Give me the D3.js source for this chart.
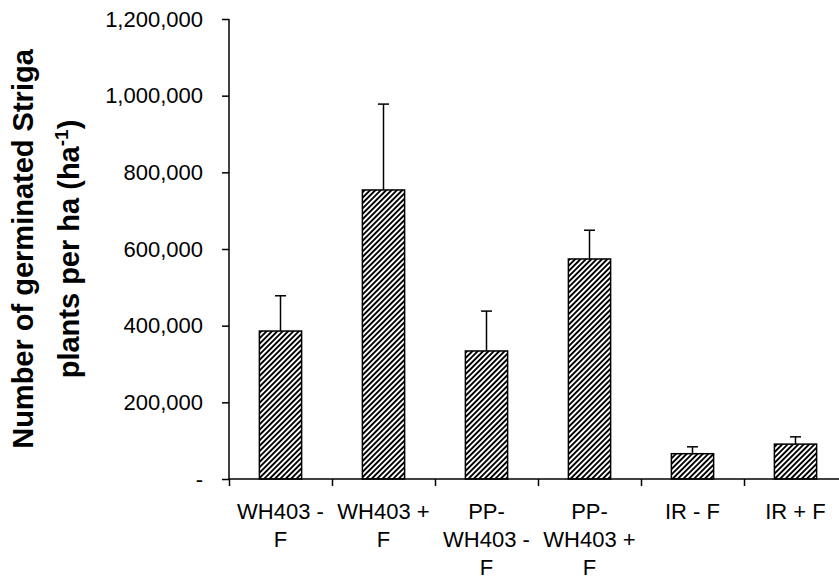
<!DOCTYPE html>
<html>
<head>
<meta charset="utf-8">
<script src="https://cdn.jsdelivr.net/npm/d3@7"></script>
<style>
  html, body { margin: 0; padding: 0; background: #fff; }
  svg { display: block; }
  text { font-family: Arial, "Liberation Sans", sans-serif; fill: #000; }
</style>
</head>
<body>
<div id="chart"></div>
<script>
const categories = ["WH403 - F", "WH403 + F", "PP-WH403 - F", "PP-WH403 + F", "IR - F", "IR + F"];
const labelLines = [["WH403 -", "F"], ["WH403 +", "F"], ["PP-", "WH403 -", "F"], ["PP-", "WH403 +", "F"], ["IR - F"], ["IR + F"]];
const means = [386000, 754000, 334000, 574000, 66000, 91000];
const errUp = [92000, 224000, 104000, 75000, 18000, 19000];
const yTicks = [0, 200000, 400000, 600000, 800000, 1000000, 1200000];

const width = 839, height = 580;
const plotL = 229, plotR = 847, plotT = 19, plotB = 479;

const svg = d3.select("#chart").append("svg")
  .attr("width", width).attr("height", height);

const defs = svg.append("defs");
const pat = defs.append("pattern")
  .attr("id", "hatch")
  .attr("patternUnits", "userSpaceOnUse")
  .attr("width", 3.8).attr("height", 3.8)
  .attr("patternTransform", "rotate(45)");
pat.append("rect").attr("width", 3.8).attr("height", 3.8).attr("fill", "#fff");
pat.append("rect").attr("x", 0).attr("width", 1.9).attr("height", 3.8).attr("fill", "#000");

const x = d3.scaleBand().domain(categories).range([plotL, plotR]).padding(0);
const xEdge = d3.scaleLinear().domain([0, categories.length]).range([plotL, plotR]);
const y = d3.scaleLinear().domain([0, 1200000]).range([plotB, plotT]);

const barW = x.bandwidth() * 0.41;

// bars
svg.append("g").selectAll("rect")
  .data(categories)
  .join("rect")
  .attr("x", d => x(d) + x.bandwidth() / 2 - barW / 2)
  .attr("y", (d, i) => y(means[i]))
  .attr("width", barW)
  .attr("height", (d, i) => y(0) - y(means[i]))
  .attr("fill", "url(#hatch)")
  .attr("stroke", "#000")
  .attr("stroke-width", 1.5);

// error bars (upper only)
const eb = svg.append("g").attr("stroke", "#000").attr("stroke-width", 1.5);
categories.forEach((c, i) => {
  const cx = x(c) + x.bandwidth() / 2;
  eb.append("line")
    .attr("x1", cx).attr("x2", cx)
    .attr("y1", y(means[i])).attr("y2", y(means[i] + errUp[i]));
  eb.append("line")
    .attr("x1", cx - 5.5).attr("x2", cx + 5.5)
    .attr("y1", y(means[i] + errUp[i])).attr("y2", y(means[i] + errUp[i]));
});

// y axis
const yAxis = svg.append("g")
  .attr("transform", `translate(${plotL},0)`)
  .call(d3.axisLeft(y).tickValues(yTicks).tickSize(7).tickPadding(19)
    .tickFormat(d => d === 0 ? "-" : d3.format(",")(d)));
yAxis.select(".domain").attr("d", `M0,${plotT}V${plotB}`);

// x axis
const xAxis = svg.append("g")
  .attr("transform", `translate(0,${plotB})`)
  .call(d3.axisBottom(xEdge).tickValues(d3.range(0, categories.length + 1)).tickSize(7).tickFormat(""));
xAxis.select(".domain").attr("d", `M${plotL},0H${plotR}`);

svg.selectAll(".domain, .tick line").attr("stroke", "#000").attr("stroke-width", 1.5);
svg.selectAll(".tick text").attr("font-size", 22).attr("fill", "#000")
  .attr("font-family", "Arial, 'Liberation Sans', sans-serif");

// x labels
const lbl = svg.append("g").attr("font-size", 22).attr("text-anchor", "middle");
categories.forEach((c, i) => {
  const cx = x(c) + x.bandwidth() / 2;
  const t = lbl.append("text").attr("x", cx).attr("y", 519);
  labelLines[i].forEach((ln, j) => {
    t.append("tspan").attr("x", cx).attr("dy", j === 0 ? 0 : 28).text(ln);
  });
});

// y title
const tg = svg.append("g").attr("font-size", 29).attr("font-weight", "bold").attr("text-anchor", "middle");
tg.append("text")
  .attr("transform", "translate(33,249) rotate(-90)")
  .text("Number of germinated Striga");
const t2 = tg.append("text")
  .attr("transform", "translate(79,249) rotate(-90)");
t2.append("tspan").text("plants per ha (ha");
t2.append("tspan").attr("font-size", 19).attr("dy", -11).text("-1");
t2.append("tspan").attr("dy", 11).text(")");
</script>
</body>
</html>
